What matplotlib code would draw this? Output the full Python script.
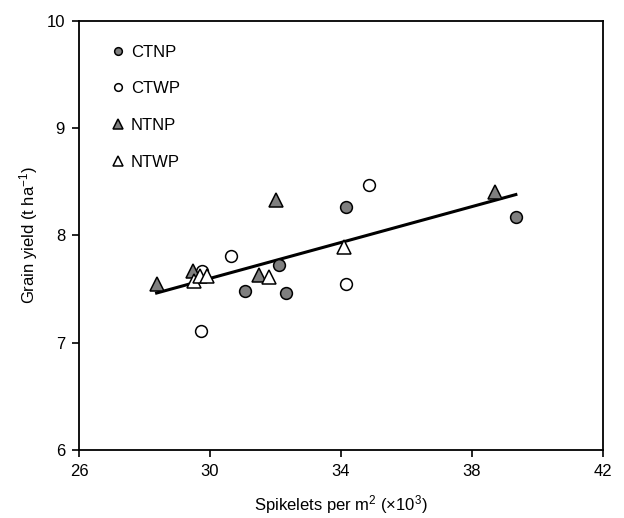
import matplotlib
matplotlib.use("Agg")
import matplotlib.pyplot as plt
import numpy as np

plt.rcParams["font.family"] = ["Liberation Sans", "DejaVu Sans"]
plt.rcParams["mathtext.default"] = "regular"

# spikelets per m2 (x10^3) and grain yield (t/ha) for each treatment
ctnp_x = [34.15, 39.34, 32.10, 31.07, 32.31]
ctnp_y = [8.26, 8.17, 7.72, 7.48, 7.46]
ctwp_x = [34.85, 30.65, 29.75, 34.15, 29.74]
ctwp_y = [8.47, 7.81, 7.67, 7.55, 7.11]
ntnp_x = [38.70, 32.02, 29.48, 31.49, 28.37]
ntnp_y = [8.40, 8.33, 7.67, 7.63, 7.55]
ntwp_x = [34.08, 31.81, 29.50, 29.71, 29.90]
ntwp_y = [7.89, 7.61, 7.57, 7.62, 7.62]

x_ticks = [26, 30, 34, 38, 42]
y_ticks = [6, 7, 8, 9, 10]

fig = plt.figure(figsize=(6.24, 5.18), dpi=100)
ax = fig.add_axes([0.1266, 0.1313, 0.8397, 0.8287])

gray = "#7f7f7f"
ax.plot(ctnp_x, ctnp_y, "o", ms=8.5, mfc=gray, mec="black", mew=1.1, label="CTNP", zorder=3)
ax.plot(ctwp_x, ctwp_y, "o", ms=8.5, mfc="white", mec="black", mew=1.1, label="CTWP", zorder=3)
ax.plot(ntnp_x, ntnp_y, "^", ms=10, mfc=gray, mec="black", mew=1.1, label="NTNP", zorder=3)
ax.plot(ntwp_x, ntwp_y, "^", ms=10, mfc="white", mec="black", mew=1.1, label="NTWP", zorder=3)

# linear fit over all points
all_x = np.array(ctnp_x + ctwp_x + ntnp_x + ntwp_x)
all_y = np.array(ctnp_y + ctwp_y + ntnp_y + ntwp_y)
slope, intercept = np.polyfit(all_x, all_y, 1)
fit_x = np.array([all_x.min(), all_x.max()])
ax.plot(fit_x, slope * fit_x + intercept, color="black", lw=2.2, zorder=2)

ax.set_xlim(26, 42)
ax.set_ylim(6, 10)
ax.set_xticks(x_ticks)
ax.set_yticks(y_ticks)
ax.tick_params(direction="out", length=5, width=1.2, labelsize=12, pad=5,
               top=False, right=False)
for sp in ax.spines.values():
    sp.set_linewidth(1.3)

ax.set_xlabel("Spikelets per m$^2$ (×10$^3$)", fontsize=12, labelpad=10)
ax.set_ylabel("Grain yield (t ha$^{-1}$)", fontsize=12, labelpad=5)

leg = ax.legend(loc="upper left", frameon=False, markerscale=0.65, fontsize=12,
                handletextpad=0.2, labelspacing=1.3, borderaxespad=0.0,
                bbox_to_anchor=(0.045, 0.96), handlelength=1.1)

fig.savefig("out.png", dpi=100)
